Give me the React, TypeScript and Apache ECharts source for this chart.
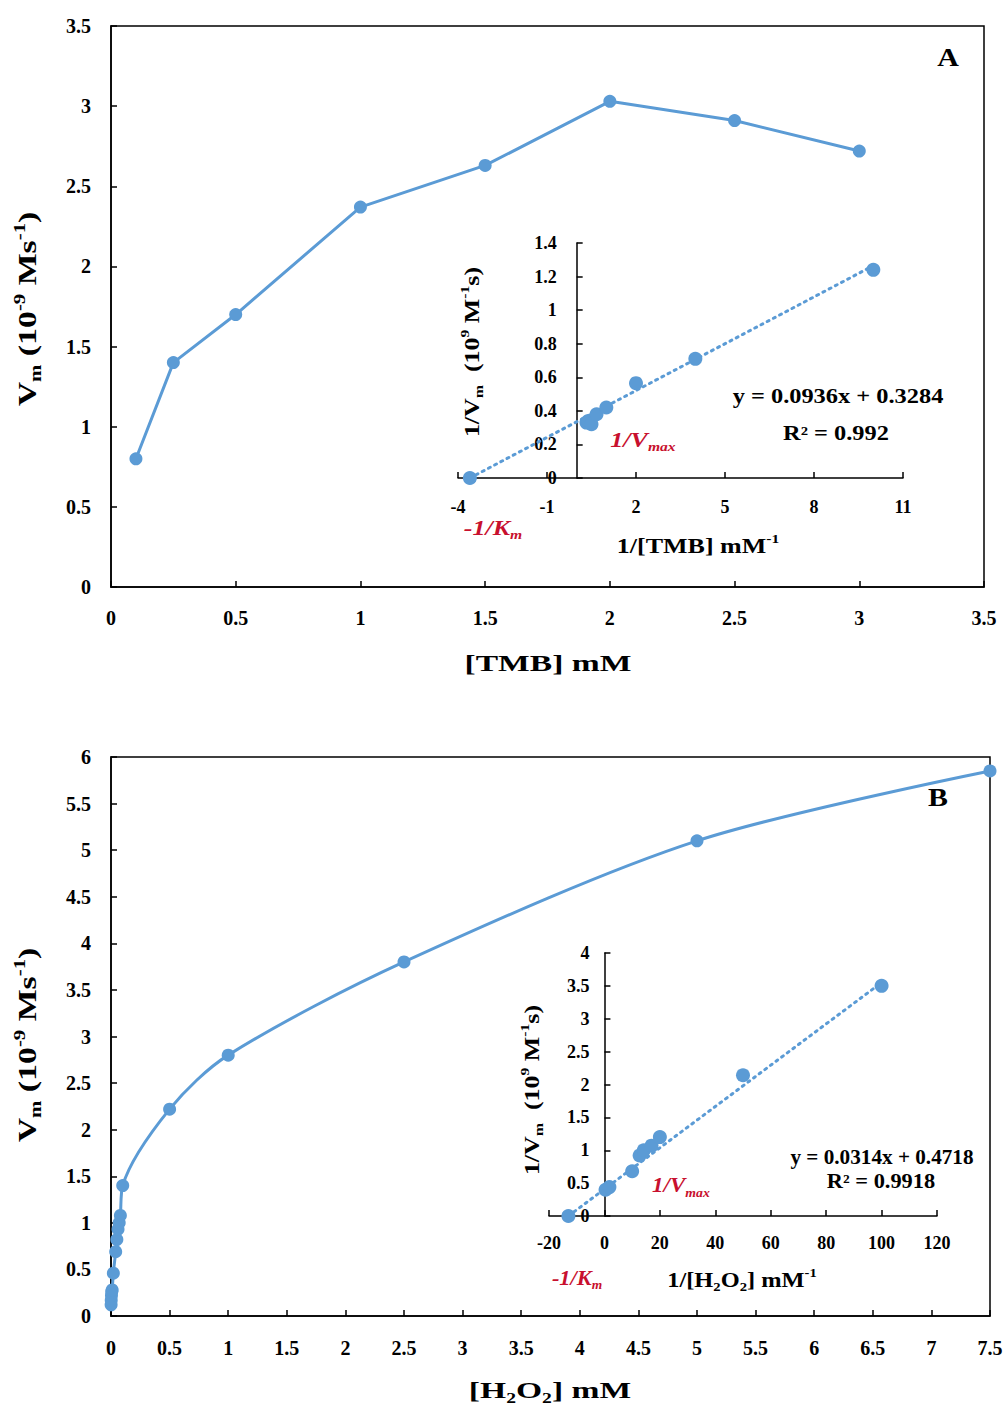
import React, { useEffect, useRef } from "react";
import * as echarts from "echarts";

// ---------- data ----------
const tmbConc = [0.1, 0.25, 0.5, 1, 1.5, 2, 2.5, 3];
const tmbRate = [0.8, 1.4, 1.7, 2.37, 2.63, 3.03, 2.91, 2.72];

const tmbInvConc = [-3.6, 0.33, 0.4, 0.5, 0.67, 1, 2, 4, 10];
const tmbInvRate = [0, 0.33, 0.34, 0.32, 0.38, 0.42, 0.565, 0.71, 1.24];
const tmbTrendX = [-3.6, 10];
const tmbTrendY = [0, 1.265];

const h2o2Conc = [0.001, 0.002, 0.004, 0.006, 0.01, 0.02, 0.04, 0.05, 0.06, 0.07, 0.08, 0.1, 0.5, 1, 2.5, 5, 7.5];
const h2o2Rate = [0.12, 0.17, 0.22, 0.26, 0.28, 0.46, 0.69, 0.82, 0.93, 1.0, 1.08, 1.4, 2.22, 2.8, 3.8, 5.1, 5.85];

const h2o2InvConc = [-13, 0.4, 1.8, 10, 12.7, 14.2, 17, 20, 50, 100];
const h2o2InvRate = [0, 0.4, 0.44, 0.68, 0.92, 1.0, 1.07, 1.2, 2.14, 3.5];
const h2o2TrendX = [-13, 100];
const h2o2TrendY = [0, 3.55];

const eqA = ["y = 0.0936x + 0.3284", "R² = 0.992"];
const eqB = ["y = 0.0314x + 0.4718", "R² = 0.9918"];

// ---------- style ----------
const FONT = '"Liberation Serif", "Times New Roman", serif';
const BLUE = "#5B9BD5";
const RED = "#C8102E";
const WIDE = 1.3; // the original lettering is drawn wider than a normal Times face

const zip = (a: number[], b: number[]) => a.map((v, i) => [v, b[i]]);

function richStyles(size: number, color = "#000", italic = false) {
  const base = {
    fontFamily: FONT,
    fontWeight: "bold",
    fill: color,
    color,
    fontStyle: italic ? "italic" : "normal",
  };
  const small = Math.round(size * 0.6);
  return {
    b: { ...base, fontSize: size, lineHeight: size + 6, verticalAlign: "middle" },
    sp: { ...base, fontSize: small, lineHeight: small + 1, verticalAlign: "top" },
    bs: { ...base, fontSize: small, lineHeight: small + 1, verticalAlign: "bottom" },
  };
}

function rtext(x: number, y: number, text: string, size: number, opts: any = {}) {
  return {
    type: "text",
    x,
    y,
    rotation: opts.rotation || 0,
    scaleX: opts.scaleX || WIDE,
    style: {
      text,
      rich: richStyles(size, opts.color || "#000", !!opts.italic),
      align: opts.align || "center",
      verticalAlign: "middle",
    },
  };
}

function ptext(x: number, y: number, text: string, size: number, scaleX = WIDE) {
  return {
    type: "text",
    x,
    y,
    scaleX,
    style: {
      text,
      fontFamily: FONT,
      fontWeight: "bold",
      fontSize: size,
      fill: "#000",
      align: "center",
      verticalAlign: "middle",
    },
  };
}

function valueAxis(grid: number, min: number, max: number, interval: number, margin: number, fontSize: number, extra: any = {}) {
  return {
    type: "value",
    gridIndex: grid,
    min,
    max,
    interval,
    axisLine: { show: true, onZero: false, lineStyle: { color: "#000", width: 1.5 } },
    axisTick: { show: true, inside: true, length: 6, lineStyle: { color: "#000", width: 1.5 } },
    axisLabel: { margin, fontFamily: FONT, fontWeight: "bold", fontSize, color: "#000" },
    splitLine: { show: false },
    ...extra,
  };
}

// inset grid geometry (pixels)
const insetA = { left: 458, top: 243, width: 445, height: 235 };
const insetB = { left: 549, top: 953, width: 388, height: 263 };
const xMinA = -4, xMaxA = 11, xMinB = -20, xMaxB = 120;
// y axis of each inset sits on x = 0: shift it inwards by the pixel distance of 0 from the left edge
const offA = -((0 - xMinA) / (xMaxA - xMinA)) * insetA.width;
const offB = -((0 - xMinB) / (xMaxB - xMinB)) * insetB.width;

export default function App() {
  const ref = useRef<HTMLDivElement>(null);

  useEffect(() => {
    if (!ref.current) return;
    const chart = echarts.init(ref.current, undefined, { renderer: "svg" });

    const option: any = {
      animation: false,
      backgroundColor: "#fff",
      grid: [
        { left: 111, top: 26, width: 873, height: 561, show: true, borderColor: "#000", borderWidth: 1.5, containLabel: false },
        { ...insetA, containLabel: false },
        { left: 111, top: 757, width: 879, height: 559, show: true, borderColor: "#000", borderWidth: 1.5, containLabel: false },
        { ...insetB, containLabel: false },
      ],
      xAxis: [
        valueAxis(0, 0, 3.5, 0.5, 21, 20),
        valueAxis(1, xMinA, xMaxA, 3, 20, 18),
        valueAxis(2, 0, 7.5, 0.5, 22, 20),
        valueAxis(3, xMinB, xMaxB, 20, 18, 18),
      ],
      yAxis: [
        valueAxis(0, 0, 3.5, 0.5, 20, 20),
        valueAxis(1, 0, 1.4, 0.2, 20, 18, { offset: offA }),
        valueAxis(2, 0, 6, 0.5, 20, 20),
        valueAxis(3, 0, 4, 0.5, 15, 18, { offset: offB }),
      ],
      series: [
        {
          type: "line",
          xAxisIndex: 0,
          yAxisIndex: 0,
          data: zip(tmbConc, tmbRate),
          symbol: "circle",
          symbolSize: 13,
          itemStyle: { color: BLUE },
          lineStyle: { color: BLUE, width: 3 },
        },
        {
          type: "line",
          xAxisIndex: 1,
          yAxisIndex: 1,
          data: zip(tmbTrendX, tmbTrendY),
          symbol: "none",
          lineStyle: { color: BLUE, width: 3, type: [2, 5], cap: "round" },
          z: 1,
        },
        {
          type: "scatter",
          xAxisIndex: 1,
          yAxisIndex: 1,
          data: zip(tmbInvConc, tmbInvRate),
          symbol: "circle",
          symbolSize: 14,
          itemStyle: { color: BLUE, opacity: 1 },
          z: 3,
        },
        {
          type: "line",
          xAxisIndex: 2,
          yAxisIndex: 2,
          data: zip(h2o2Conc, h2o2Rate),
          smooth: 0.3,
          symbol: "circle",
          symbolSize: 13,
          itemStyle: { color: BLUE },
          lineStyle: { color: BLUE, width: 3 },
        },
        {
          type: "line",
          xAxisIndex: 3,
          yAxisIndex: 3,
          data: zip(h2o2TrendX, h2o2TrendY),
          symbol: "none",
          lineStyle: { color: BLUE, width: 3, type: [2, 5], cap: "round" },
          z: 1,
        },
        {
          type: "scatter",
          xAxisIndex: 3,
          yAxisIndex: 3,
          data: zip(h2o2InvConc, h2o2InvRate),
          symbol: "circle",
          symbolSize: 14,
          itemStyle: { color: BLUE, opacity: 1 },
          z: 3,
        },
      ],
      graphic: [
        // Panel A
        rtext(27, 309, "{b|V}{bs|m}{b| (10}{sp|-9}{b| Ms}{sp|-1}{b|)}", 26, { rotation: Math.PI / 2 }),
        rtext(548, 663, "{b|[TMB] mM}", 24, { scaleX: 1.4 }),
        ptext(948, 57, "A", 26, 1.15),
        rtext(472, 352, "{b|1/V}{bs|m}{b|  (10}{sp|9}{b| M}{sp|-1}{b|s)}", 20, { rotation: Math.PI / 2 }),
        rtext(698, 546, "{b|1/[TMB] mM}{sp|-1}", 20),
        ptext(838, 396, eqA[0], 20, 1.22),
        ptext(836, 433, eqA[1], 20, 1.22),
        rtext(643, 440, "{b|1/V}{bs|max}", 20, { color: RED, italic: true }),
        rtext(493, 528, "{b|-1/K}{bs|m}", 20, { color: RED, italic: true }),
        // Panel B
        rtext(27, 1045, "{b|V}{bs|m}{b| (10}{sp|-9}{b| Ms}{sp|-1}{b|)}", 26, { rotation: Math.PI / 2 }),
        rtext(550, 1390, "{b|[H}{bs|2}{b|O}{bs|2}{b|] mM}", 24, { scaleX: 1.4 }),
        ptext(938, 797, "B", 26, 1.15),
        rtext(532, 1090, "{b|1/V}{bs|m}{b|  (10}{sp|9}{b| M}{sp|-1}{b|s)}", 20, { rotation: Math.PI / 2 }),
        rtext(742, 1280, "{b|1/[H}{bs|2}{b|O}{bs|2}{b|] mM}{sp|-1}", 20, { scaleX: 1.22 }),
        ptext(882, 1157, eqB[0], 20, 1.06),
        ptext(881, 1181, eqB[1], 20, 1.12),
        rtext(681, 1186, "{b|1/V}{bs|max}", 20, { color: RED, italic: true, scaleX: 1.15 }),
        rtext(577, 1278, "{b|-1/K}{bs|m}", 20, { color: RED, italic: true, scaleX: 1.12 }),
      ],
    };

    chart.setOption(option);
    return () => chart.dispose();
  }, []);

  return (
    <div
      ref={ref}
      style={{ position: "absolute", left: 0, top: 0, width: 1007, height: 1410, background: "#fff" }}
    />
  );
}
